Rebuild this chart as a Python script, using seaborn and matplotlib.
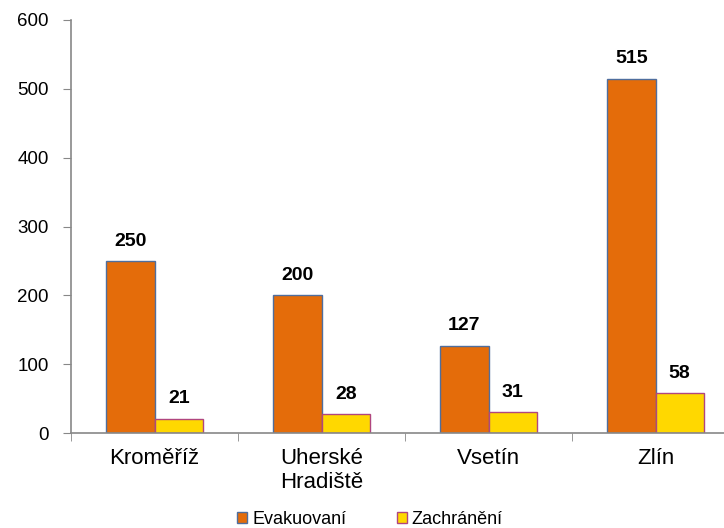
import matplotlib.pyplot as plt
import seaborn as sns
import pandas as pd
from matplotlib.patches import Patch

categories = ['Kroměříž', 'Uherské\nHradiště', 'Vsetín', 'Zlín']
evakuovani = [250, 200, 127, 515]
zachraneni = [21, 28, 31, 58]
series = ['Evakuovaní', 'Zachránění']

df = pd.DataFrame({
    'okres': categories * 2,
    'pocet': evakuovani + zachraneni,
    'serie': [series[0]] * 4 + [series[1]] * 4,
})

sns.set_style('white')
plt.rcParams['font.family'] = ['Liberation Sans', 'DejaVu Sans']
plt.rcParams['text.color'] = 'black'
plt.rcParams['xtick.color'] = 'black'
plt.rcParams['ytick.color'] = 'black'

fills = ['#E46C0A', '#FFD800']
edges = ['#4F6E9E', '#B0467F']

fig = plt.figure(figsize=(7.24, 5.28), dpi=100)
ax = fig.add_axes([71 / 724, 95 / 528, 668 / 724, 413 / 528])

sns.barplot(data=df, x='okres', y='pocet', hue='serie', palette=fills,
            width=0.58, gap=0, ax=ax, legend=False, saturation=1)

for cont, ec in zip(ax.containers, edges):
    for bar in cont:
        bar.set_edgecolor(ec)
        bar.set_linewidth(1.0)
    ax.bar_label(cont, padding=8, fontsize=14, fontweight='bold', color='black')

ax.set_xlim(-0.5, 3.5)
ax.set_ylim(0, 600)
ax.set_yticks(range(0, 601, 100))
ax.set_xlabel('')
ax.set_ylabel('')

for s in ['top', 'right']:
    ax.spines[s].set_visible(False)
for s in ['left', 'bottom']:
    ax.spines[s].set_color('#888888')
    ax.spines[s].set_linewidth(1.2)

ax.tick_params(axis='y', length=6, color='#888888', labelcolor='black', labelsize=13.5,
               pad=10, direction='out', left=True)
ax.tick_params(axis='x', which='major', length=0, labelcolor='black', labelsize=16, pad=11)
ax.set_xticks([-0.5, 0.5, 1.5, 2.5], minor=True)
ax.tick_params(axis='x', which='minor', length=6, color='#888888', direction='out', bottom=True)

handles = [Patch(facecolor=f, edgecolor=e, label=l) for f, e, l in zip(fills, edges, series)]
fig.legend(handles=handles, loc='lower center', bbox_to_anchor=(370 / 724, -0.03), ncol=2,
           frameon=False, fontsize=13, handlelength=0.55, handleheight=0.55,
           handletextpad=0.28, columnspacing=2.8)

plt.savefig('out.png', dpi=100)
